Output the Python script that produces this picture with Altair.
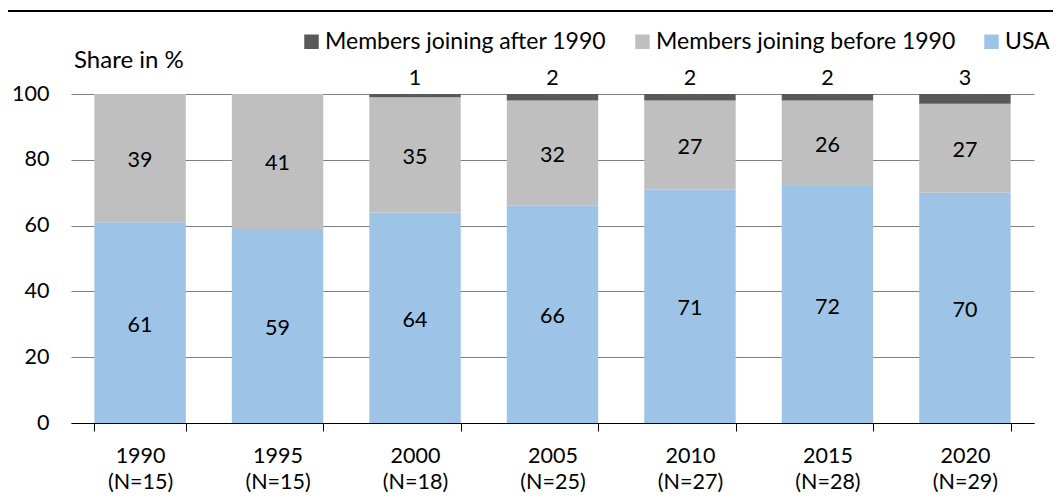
import altair as alt
import pandas as pd

years = ["1990", "1995", "2000", "2005", "2010", "2015", "2020"]
n_members = [15, 15, 18, 25, 27, 28, 29]
usa = [61, 59, 64, 66, 71, 72, 70]
before_1990 = [39, 41, 35, 32, 27, 26, 27]
after_1990 = [0, 0, 1, 2, 2, 2, 3]

series_names = ["USA", "Members joining before 1990", "Members joining after 1990"]
legend_order = ["Members joining after 1990", "Members joining before 1990", "USA"]
colors = {"USA": "#9DC3E6", "Members joining before 1990": "#BFBFBF",
          "Members joining after 1990": "#595959"}

rows = []
for i, y in enumerate(years):
    cat = f"{y}|(N={n_members[i]})"
    for k, (name, vals) in enumerate(zip(series_names, [usa, before_1990, after_1990])):
        rows.append({"cat": cat, "series": name, "value": vals[i], "ord": k})
df = pd.DataFrame(rows)
cats = [f"{y}|(N={n})" for y, n in zip(years, n_members)]

FONT = "Lato"
FS = 21.5
FS_LEG = 23

base = alt.Chart(df).transform_stack(
    stack="value", groupby=["cat"], as_=["y0", "y1"], sort=[alt.SortField("ord")]
).transform_calculate(mid="(datum.y0 + datum.y1) / 2")

xenc = alt.X("cat:N", sort=cats, title=None,
             scale=alt.Scale(paddingInner=0.335, paddingOuter=0.17),
             axis=alt.Axis(labelExpr="split(datum.label, '|')", labelAngle=0,
                           labelFontSize=FS, labelFont=FONT, labelColor="black",
                           labelLineHeight=26, labelPadding=14, tickBand="extent",
                           tickSize=8, tickColor="black", domainColor="black",
                           domainWidth=1.2, grid=False))

bars = base.mark_bar().encode(
    x=xenc,
    y=alt.Y("y0:Q", title=None, scale=alt.Scale(domain=[0, 100]),
            axis=alt.Axis(values=[0, 20, 40, 60, 80, 100], domain=False, ticks=False,
                          labelFontSize=FS, labelFont=FONT, labelColor="black",
                          labelPadding=22, gridColor="#808080", gridWidth=1,
                          gridOpacity=1)),
    y2="y1:Q",
    color=alt.Color("series:N", sort=legend_order,
                    scale=alt.Scale(domain=legend_order,
                                    range=[colors[s] for s in legend_order]),
                    legend=alt.Legend(title=None, orient="none", direction="horizontal",
                                      legendX=229, legendY=-64, symbolType="square",
                                      symbolSize=210, symbolStrokeWidth=0,
                                      labelFontSize=FS_LEG, labelFont=FONT,
                                      labelColor="black", columnPadding=24,
                                      labelOffset=2, labelLimit=400, symbolOpacity=1)),
)

inner = base.transform_filter("datum.series != 'Members joining after 1990'").mark_text(
    fontSize=FS, font=FONT, color="black", dy=3
).encode(x=alt.X("cat:N", sort=cats), y="mid:Q", text="value:Q")

top = base.transform_filter(
    "datum.series == 'Members joining after 1990' && datum.value > 0"
).mark_text(fontSize=FS, font=FONT, color="black", baseline="bottom", dy=-4).encode(
    x=alt.X("cat:N", sort=cats), y="y1:Q", text="value:Q")

share = alt.Chart(pd.DataFrame({"t": ["Share in %"]})).mark_text(
    fontSize=24, font=FONT, color="black", align="left", baseline="middle"
).encode(x=alt.value(3), y=alt.value(-33), text="t:N")

topline = alt.Chart(pd.DataFrame({"t": [0]})).mark_rule(
    color="black", strokeWidth=2
).encode(x=alt.value(-63), x2=alt.value(982), y=alt.value(-83))

chart = alt.layer(bars, inner, top, share, topline).properties(
    width=963, height=329,
    autosize=alt.AutoSizeParams(type="none"),
    padding={"left": 63, "top": 86, "right": 19, "bottom": 70},
).configure_view(stroke=None)

chart.save("out.html", embed_options={"renderer": "svg", "actions": False})
